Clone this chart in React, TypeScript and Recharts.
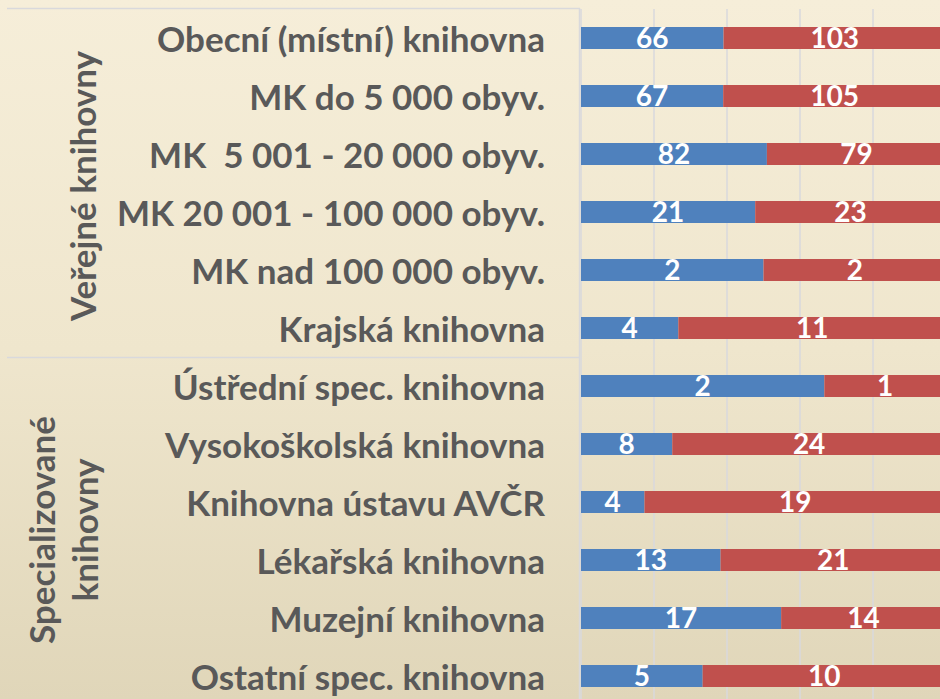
import { BarChart, Bar, XAxis, YAxis, CartesianGrid, LabelList } from "recharts";

const categories = [
  "Obecní (místní) knihovna",
  "MK do 5 000 obyv.",
  "MK  5 001 - 20 000 obyv.",
  "MK 20 001 - 100 000 obyv.",
  "MK nad 100 000 obyv.",
  "Krajská knihovna",
  "Ústřední spec. knihovna",
  "Vysokoškolská knihovna",
  "Knihovna ústavu AVČR",
  "Lékařská knihovna",
  "Muzejní knihovna",
  "Ostatní spec. knihovna",
];
const blueValues = [66, 67, 82, 21, 2, 4, 2, 8, 4, 13, 17, 5];
const redValues = [103, 105, 79, 23, 2, 11, 1, 24, 19, 21, 14, 10];
const xTicks = [0, 0.2, 0.4, 0.6, 0.8, 1];

const data = categories.map((name, i) => ({
  name,
  blue: blueValues[i],
  red: redValues[i],
}));

const FONT = "Lato, 'Open Sans', sans-serif";
const TEXT = "#595959";
const LINE = "#d9d9dc";

function CategoryTick(props: any) {
  const { x, y, payload } = props;
  return (
    <text
      x={x}
      y={y}
      textAnchor="end"
      dominantBaseline="central"
      fill={TEXT}
      fontFamily={FONT}
      fontWeight={700}
      fontSize={35}
      style={{ whiteSpace: "pre" }}
    >
      {payload.value}
    </text>
  );
}

export default function App() {
  return (
    <div
      style={{
        position: "absolute",
        left: 0,
        top: 0,
        width: 940,
        height: 699,
        overflow: "hidden",
        background: "linear-gradient(180deg, #f6eed9 0%, #efe6cd 50%, #e0d6b9 100%)",
      }}
    >
      <BarChart
        width={960}
        height={720}
        data={data}
        layout="vertical"
        stackOffset="expand"
        margin={{ top: 9, right: 14, bottom: 15, left: 0 }}
        barSize={22}
      >
        <CartesianGrid horizontal={false} stroke={LINE} strokeWidth={1.5} />
        <XAxis type="number" domain={[0, 1]} ticks={xTicks} hide />
        <YAxis
          type="category"
          dataKey="name"
          width={581}
          tickSize={0}
          tickMargin={36}
          axisLine={false}
          tickLine={false}
          tick={<CategoryTick />}
          interval={0}
        />
        <Bar dataKey="blue" stackId="s" fill="#4f81bd" isAnimationActive={false}>
          <LabelList
            dataKey="blue"
            position="center"
            fill="#ffffff"
            fontFamily={FONT}
            fontWeight={700}
            fontSize={28}
          />
        </Bar>
        <Bar dataKey="red" stackId="s" fill="#c0504d" isAnimationActive={false}>
          <LabelList
            dataKey="red"
            position="center"
            fill="#ffffff"
            fontFamily={FONT}
            fontWeight={700}
            fontSize={28}
          />
        </Bar>
      </BarChart>
      <svg
        width={940}
        height={699}
        style={{ position: "absolute", left: 0, top: 0, pointerEvents: "none" }}
      >
        <line x1={7} y1={8.5} x2={580} y2={8.5} stroke={LINE} strokeWidth={1.5} />
        <line x1={7} y1={357.5} x2={580} y2={357.5} stroke={LINE} strokeWidth={1.5} />
        <line x1={579.5} y1={8} x2={579.5} y2={699} stroke={LINE} strokeWidth={1.5} />
        <text
          transform="translate(82,186) rotate(-90)"
          textAnchor="middle"
          dominantBaseline="central"
          fill={TEXT}
          fontFamily={FONT}
          fontWeight={700}
          fontSize={35}
        >
          Veřejné knihovny
        </text>
        <text
          transform="translate(41,530) rotate(-90)"
          textAnchor="middle"
          dominantBaseline="central"
          fill={TEXT}
          fontFamily={FONT}
          fontWeight={700}
          fontSize={35}
        >
          Specializované
        </text>
        <text
          transform="translate(84,530) rotate(-90)"
          textAnchor="middle"
          dominantBaseline="central"
          fill={TEXT}
          fontFamily={FONT}
          fontWeight={700}
          fontSize={35}
        >
          knihovny
        </text>
      </svg>
    </div>
  );
}
